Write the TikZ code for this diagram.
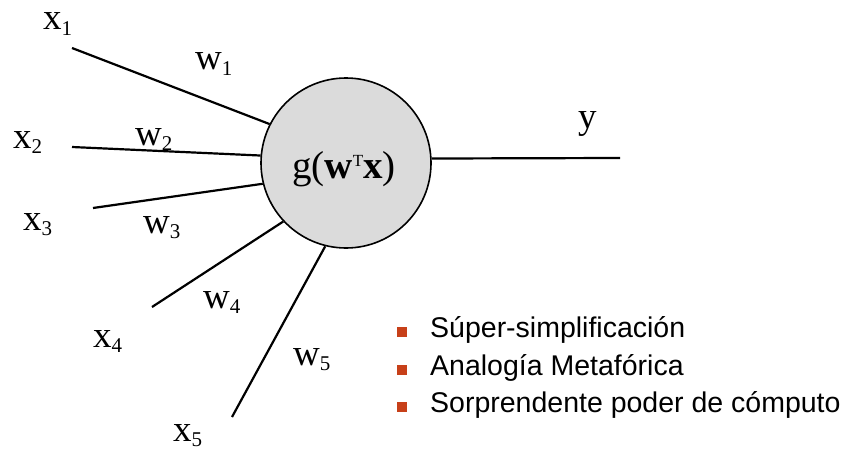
\documentclass[tikz,border=0pt]{standalone}
\usepackage{fontspec}
\setmainfont{Liberation Serif}
\newfontfamily\listfont{Liberation Sans}
\usepackage{tikz}
\definecolor{bulletred}{rgb}{0.78,0.25,0.10}
\definecolor{cellgray}{rgb}{0.86,0.86,0.86}
\newcommand{\lowsub}[1]{\raisebox{-0.14em}{\fontsize{21}{21}\selectfont #1}}

\begin{document}
\begin{tikzpicture}[x=1pt, y=-1pt,
  lbl/.style={anchor=base west, inner sep=0pt, font=\fontsize{37}{40}\selectfont},
  wire/.style={black, line width=2.2pt},
  item/.style={anchor=base west, inner sep=0pt, font=\listfont\fontsize{28.5}{30}\selectfont},
  sqmark/.style={fill=bulletred, draw=none, minimum size=10pt, inner sep=0pt}]
  \useasboundingbox (0,0) rectangle (845,452);
  % neuron
  \node[circle, draw, line width=1.6pt, fill=cellgray, minimum size=170pt, inner sep=0pt] (g) at (346,163) {};
  \node[anchor=base west, inner sep=0pt, font=\fontsize{39}{42}\selectfont] (gtext) at (292,178) {g(\textbf{w}\raisebox{0.3em}{\fontsize{17}{17}\selectfont T}\textbf{x})};
  % inputs
  \coordinate (e1) at (72,48);
  \coordinate (e2) at (72,147);
  \coordinate (e3) at (93,208);
  \coordinate (e4) at (152,307);
  \coordinate (e5) at (232,417);
  \draw[wire] (e1) -- (g.153.7);
  \draw[wire] (e2) -- (g.175.3);
  \draw[wire] (e3) -- (g.194.7);
  \draw[wire] (e4) -- (g.223.6);
  \draw[wire] (e5) -- (g.256);
  % output
  \coordinate (yend) at (620,158);
  \draw[wire] (g.3.4) -- (yend);
  \node[lbl] (ylbl) at (578,128) {y};
  % labels
  \node[lbl] (x1) at (43,30) {x\lowsub{1}};
  \node[lbl] (x2) at (13,148) {x\lowsub{2}};
  \node[lbl] (x3) at (23,230) {x\lowsub{3}};
  \node[lbl] (x4) at (93,347) {x\lowsub{4}};
  \node[lbl] (x5) at (173,441) {x\lowsub{5}};
  \node[lbl] (w1) at (195,70) {w\lowsub{1}};
  \node[lbl] (w2) at (135,145) {w\lowsub{2}};
  \node[lbl] (w3) at (143,233) {w\lowsub{3}};
  \node[lbl] (w4) at (203,308) {w\lowsub{4}};
  \node[lbl] (w5) at (293,365) {w\lowsub{5}};
  % list
  \node[sqmark] (b1) at (402,332) {};
  \node[sqmark] (b2) at (402,370) {};
  \node[sqmark] (b3) at (402,407) {};
  \node[item] (t1) at (430,337) {Súper-simplificación};
  \node[item] (t2) at (430,375) {Analogía Metafórica};
  \node[item] (t3) at (430,412) {Sorprendente poder de cómputo};
\end{tikzpicture}
\end{document}
